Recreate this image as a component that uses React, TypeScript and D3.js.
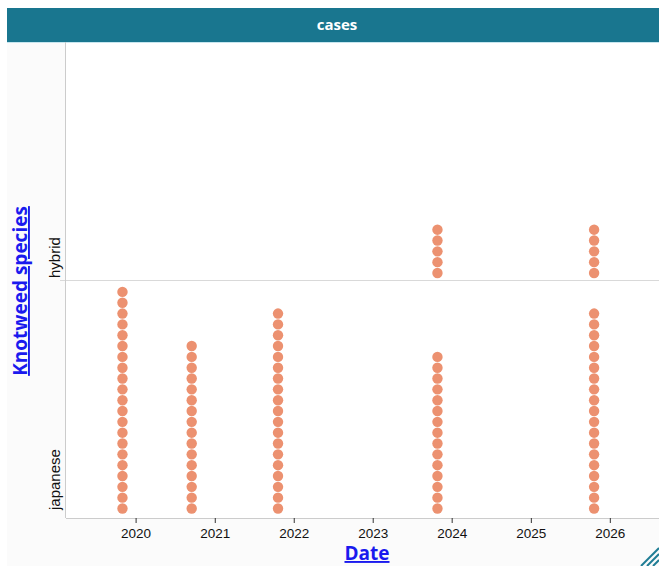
import React from "react";
import * as d3 from "d3";

const categories = ["japanese", "hybrid"];
const dateStrings = ["2019-10-30", "2020-09-14", "2021-10-18", "2023-10-25", "2025-10-18"];
const japaneseCounts = [21, 16, 19, 15, 19];
const hybridCounts = [0, 0, 0, 5, 5];
const tickYears = [2020, 2021, 2022, 2023, 2024, 2025, 2026];
const headerTitle = "cases";
const xTitle = "Date";
const yTitle = "Knotweed species";

const W = 659;
const H = 566;
const left = 66;
const right = 659;
const top = 42;
const bottom = 518;
const headerTop = 8;
const headerLeft = 7;

const r = 5.2;
const step = 10.83;
const font = "'Liberation Sans', Arial, sans-serif";

export default function App() {
  const parse = d3.timeParse("%Y-%m-%d");
  const x = d3
    .scaleTime()
    .domain([new Date(2019, 1, 11), new Date(2026, 7, 14)])
    .range([left, right]);
  const y = d3.scaleBand().domain(categories).range([bottom, top]);

  const points: { cx: number; cy: number; key: string }[] = [];
  dateStrings.forEach((ds, i) => {
    const d = parse(ds) as Date;
    const counts: Record<string, number> = { japanese: japaneseCounts[i], hybrid: hybridCounts[i] };
    categories.forEach((c) => {
      const bBottom = (y(c) as number) + y.bandwidth();
      const off = c === "japanese" ? 9.5 : 7;
      for (let k = 0; k < counts[c]; k++) {
        points.push({ cx: x(d), cy: bBottom - off - k * step, key: `${c}-${i}-${k}` });
      }
    });
  });

  const sepY = y("japanese") as number;

  return (
    <svg
      width={W}
      height={H}
      style={{ position: "absolute", left: 0, top: 0, background: "#fff" }}
    >
      {/* outer backgrounds */}
      <rect x={headerLeft} y={top} width={W - headerLeft} height={H - top} fill="#fbfbfb" />
      <rect x={left} y={top} width={right - left} height={bottom - top} fill="#ffffff" />
      {/* header */}
      <rect x={headerLeft} y={headerTop} width={W - headerLeft} height={top - headerTop} fill="#19768f" />
      <line x1={headerLeft} x2={W} y1={top + 0.5} y2={top + 0.5} stroke="#c7e6ef" strokeWidth={1} />
      <text
        x={(headerLeft + W) / 2 + 4}
        y={(headerTop + top) / 2 + 5}
        textAnchor="middle"
        fill="#ffffff"
        fontFamily="'Open Sans', sans-serif"
        fontWeight={700}
        fontSize={15}
      >
        {headerTitle}
      </text>

      {/* category separator */}
      <line x1={60} x2={right} y1={sepY + 0.5} y2={sepY + 0.5} stroke="#d9d9d9" strokeWidth={1} />

      {/* axes lines */}
      <line x1={left - 0.5} x2={left - 0.5} y1={top} y2={bottom} stroke="#cccccc" strokeWidth={1} />
      <line x1={left} x2={right} y1={bottom + 0.5} y2={bottom + 0.5} stroke="#cccccc" strokeWidth={1} />

      {/* x ticks */}
      {tickYears.map((yr) => {
        const tx = x(new Date(yr, 0, 1));
        return (
          <g key={yr}>
            <line x1={tx} x2={tx} y1={bottom} y2={bottom + 5} stroke="#333" strokeWidth={1} />
            <text x={tx} y={bottom + 20} textAnchor="middle" fontFamily={font} fontSize={13.5} fill="#111">
              {yr}
            </text>
          </g>
        );
      })}

      {/* y category labels */}
      {categories.map((c) => {
        const bb = (y(c) as number) + y.bandwidth();
        const ay = bb - (c === "japanese" ? 8 : 2);
        return (
          <text
            key={c}
            transform={`translate(60,${ay}) rotate(-90)`}
            textAnchor="start"
            fontFamily={font}
            fontSize={15}
            fill="#111"
          >
            {c}
          </text>
        );
      })}

      {/* axis titles */}
      <text
        x={367}
        y={560}
        textAnchor="middle"
        fontFamily="'Open Sans', sans-serif"
        fontWeight={700}
        fontSize={19}
        fill="#1a1aee"
        textDecoration="underline"
      >
        {xTitle}
      </text>
      <text
        transform={`translate(27,${291}) rotate(-90)`}
        textAnchor="middle"
        fontFamily="'Open Sans', sans-serif"
        fontWeight={700}
        fontSize={19}
        fill="#1a1aee"
        textDecoration="underline"
      >
        {yTitle}
      </text>

      {/* dots */}
      {points.map((p) => (
        <circle key={p.key} cx={p.cx} cy={p.cy} r={r} fill="#ec9170" />
      ))}

      {/* resize corner */}
      <g stroke="#1f7d95" strokeWidth={2}>
        <line x1={641} y1={566} x2={659} y2={548} />
        <line x1={647} y1={566} x2={659} y2={554} />
        <line x1={653} y1={566} x2={659} y2={560} />
      </g>
    </svg>
  );
}
